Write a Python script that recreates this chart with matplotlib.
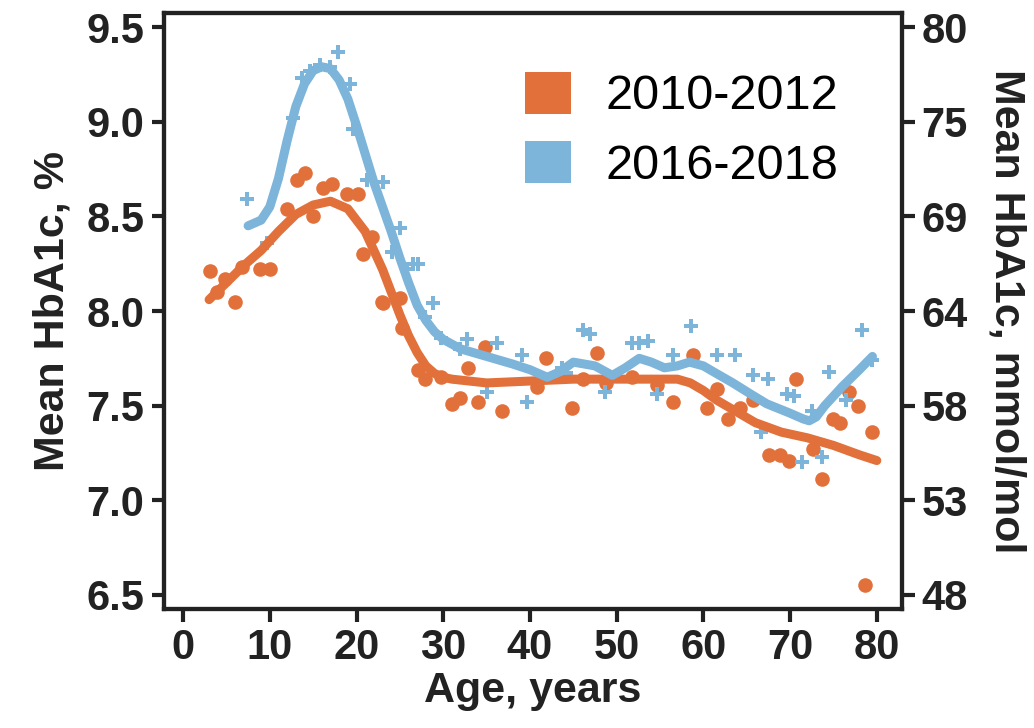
import matplotlib
matplotlib.use('Agg')
import matplotlib.pyplot as plt
from matplotlib.patches import Patch

plt.rcParams['font.family'] = ['Liberation Sans', 'DejaVu Sans']

# 2010-2012 (orange dots) ################################################
age_1012 = [3.1, 3.9, 4.8, 6.0, 6.8, 8.9, 10.0, 12.0, 13.1, 14.1, 15.0, 16.1, 17.2,
            18.9, 20.2, 20.7, 21.8, 22.9, 23.0, 25.0, 25.3, 27.1, 27.9, 29.8, 31.0,
            31.9, 32.8, 34.0, 34.8, 36.8, 40.8, 41.9, 44.8, 46.1, 47.7, 48.8, 51.8,
            54.6, 56.5, 58.8, 60.4, 61.6, 62.8, 64.2, 65.7, 67.6, 68.8, 69.9, 70.7,
            72.6, 73.7, 74.9, 75.7, 76.8, 77.8, 78.6, 79.5]
hba_1012 = [8.21, 8.10, 8.17, 8.05, 8.23, 8.22, 8.22, 8.54, 8.69, 8.73, 8.50, 8.65, 8.67,
            8.62, 8.62, 8.30, 8.39, 8.05, 8.04, 8.07, 7.91, 7.69, 7.64, 7.65, 7.51,
            7.54, 7.70, 7.52, 7.81, 7.47, 7.60, 7.75, 7.49, 7.64, 7.78, 7.62, 7.65,
            7.61, 7.52, 7.77, 7.49, 7.59, 7.43, 7.49, 7.53, 7.24, 7.24, 7.21, 7.64,
            7.27, 7.11, 7.43, 7.41, 7.57, 7.50, 6.55, 7.36]
# smoothed curve
fit_age_1012 = [3, 5, 7, 9, 11, 13, 15, 17, 19, 21, 23, 24, 25, 26, 27, 28, 29, 30, 31,
                33, 35, 40, 45, 50, 55, 57, 58.5, 60, 61.5, 63, 66, 69, 72, 75, 78, 80]
fit_hba_1012 = [8.06, 8.15, 8.24, 8.32, 8.42, 8.51, 8.56, 8.58, 8.54, 8.42, 8.22, 8.10,
                7.98, 7.87, 7.78, 7.71, 7.67, 7.65, 7.64, 7.63, 7.62, 7.63, 7.64, 7.64,
                7.64, 7.64, 7.62, 7.58, 7.53, 7.49, 7.41, 7.36, 7.33, 7.29, 7.24, 7.21]

# 2016-2018 (blue crosses) ###############################################
age_1618 = [7.4, 9.7, 12.7, 13.7, 14.6, 15.8, 16.9, 17.9, 19.2, 19.6, 21.2, 23.0, 24.1,
            25.0, 25.8, 26.5, 27.1, 27.9, 28.8, 29.8, 31.9, 32.7, 35.0, 36.2, 39.1,
            39.7, 43.7, 44.2, 46.1, 46.9, 48.6, 51.8, 52.6, 53.6, 54.7, 56.5, 58.6,
            61.6, 63.6, 65.7, 66.7, 67.4, 69.6, 70.5, 71.4, 72.5, 73.7, 74.5, 76.5,
            78.3, 79.4]
hba_1618 = [8.59, 8.36, 9.02, 9.23, 9.27, 9.30, 9.29, 9.37, 9.20, 8.96, 8.69, 8.68, 8.31,
            8.44, 8.22, 8.25, 8.25, 7.97, 8.04, 7.86, 7.80, 7.85, 7.57, 7.83, 7.77,
            7.52, 7.70, 7.67, 7.90, 7.88, 7.57, 7.83, 7.83, 7.84, 7.56, 7.77, 7.92,
            7.77, 7.77, 7.66, 7.36, 7.64, 7.56, 7.55, 7.20, 7.47, 7.23, 7.68, 7.53,
            7.90, 7.74]
fit_age_1618 = [7.5, 9, 10, 11, 12, 13, 14, 15, 16, 17, 18, 19, 20, 21, 22, 23, 24, 25,
                26, 27, 28, 29, 30, 32, 35, 38, 40, 42, 43.5, 45, 47.5, 49.5, 51, 52.6,
                54, 55.5, 57, 58.4, 60, 61.5, 63.4, 65.5, 67.3, 70, 71.5, 72.2, 73, 74,
                76, 78, 79.5]
fit_hba_1618 = [8.45, 8.48, 8.55, 8.70, 8.90, 9.08, 9.20, 9.27, 9.29, 9.28, 9.22, 9.12,
                8.98, 8.83, 8.68, 8.55, 8.42, 8.28, 8.15, 8.03, 7.95, 7.89, 7.85, 7.80,
                7.76, 7.72, 7.69, 7.65, 7.68, 7.73, 7.71, 7.66, 7.70, 7.75, 7.73, 7.70,
                7.71, 7.73, 7.71, 7.67, 7.62, 7.56, 7.51, 7.46, 7.43, 7.42, 7.44, 7.50,
                7.60, 7.69, 7.76]

pct_ticks = [6.5, 7.0, 7.5, 8.0, 8.5, 9.0, 9.5]
mmol_labels = ['48', '53', '58', '64', '69', '75', '80']
x_ticks = [0, 10, 20, 30, 40, 50, 60, 70, 80]

orange = '#E2703A'
blue = '#7DB4D9'
dark = '#222222'

fig = plt.figure(figsize=(10.34, 7.28), dpi=100)
ax = fig.add_axes([0.1586, 0.1635, 0.7137, 0.8186])

ax.plot(age_1012, hba_1012, 'o', color=orange, markersize=10.5, markeredgewidth=0, zorder=3)
ax.plot(fit_age_1012, fit_hba_1012, '-', color=orange, lw=6.5, solid_capstyle='round',
        solid_joinstyle='round', zorder=4)
ax.plot(age_1618, hba_1618, 'P', color=blue, markersize=10.5, markeredgewidth=0, zorder=3)
ax.plot(fit_age_1618, fit_hba_1618, '-', color=blue, lw=6.5, solid_capstyle='round',
        solid_joinstyle='round', zorder=4)

ax.set_xlim(-2.2, 82.9)
ax.set_ylim(6.426, 9.574)
ax.set_xticks(x_ticks)
ax.set_yticks(pct_ticks)
ax.set_yticklabels(['%.1f' % v for v in pct_ticks])

ax2 = ax.twinx()
ax2.set_ylim(ax.get_ylim())
ax2.set_yticks(pct_ticks)
ax2.set_yticklabels(mmol_labels)

for a in (ax, ax2):
    for s in a.spines.values():
        s.set_linewidth(3)
        s.set_color(dark)
    a.tick_params(length=9, width=3, color=dark, labelsize=30, labelcolor=dark, pad=5)
    for lab in a.get_xticklabels() + a.get_yticklabels():
        lab.set_fontweight('bold')

ax.set_xlabel('Age, years', fontsize=31, fontweight='bold', color=dark, labelpad=2)
ax.set_ylabel('Mean HbA1c, %', fontsize=31, fontweight='bold', color=dark, labelpad=10)
ax2.set_ylabel('Mean HbA1c, mmol/mol', fontsize=31, fontweight='bold', color=dark,
               rotation=270, labelpad=42)

handles = [Patch(facecolor=orange, edgecolor='none'), Patch(facecolor=blue, edgecolor='none')]
ax.legend(handles, ['2010-2012', '2016-2018'], loc='upper left', bbox_to_anchor=(0.43, 0.975),
          frameon=False, fontsize=35, handlelength=0.95, handleheight=0.95,
          handletextpad=0.7, labelspacing=0.45)

fig.savefig('out.png', dpi=100)
